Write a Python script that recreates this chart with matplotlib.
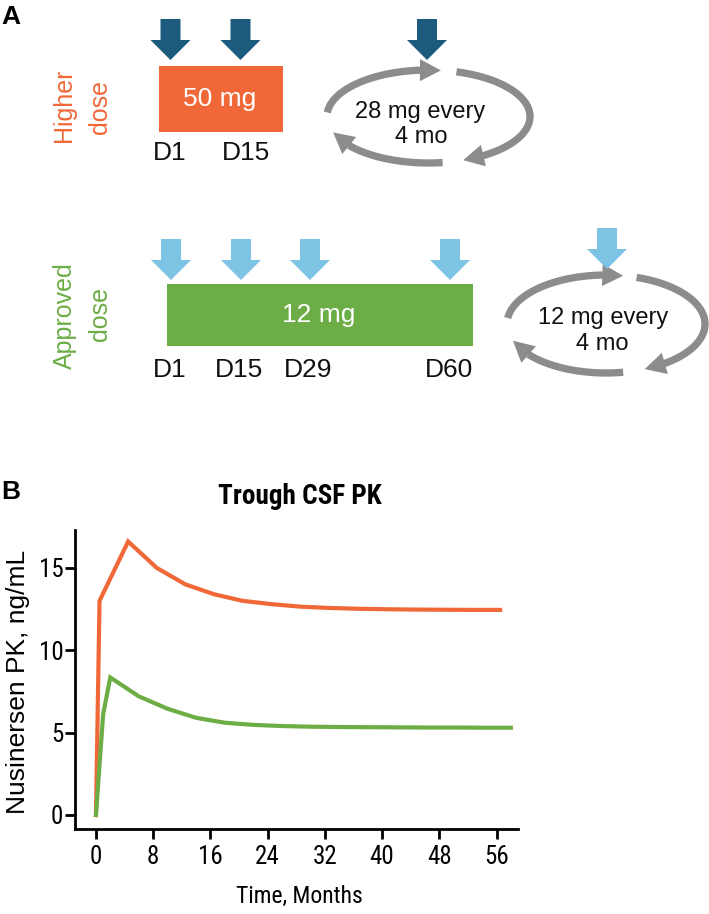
import os
import numpy as np
import matplotlib
matplotlib.use("Agg")
import matplotlib.pyplot as plt
from matplotlib.patches import Polygon, Rectangle
from matplotlib import font_manager
from matplotlib.font_manager import FontProperties

# ---------------- data ----------------
months_higher = [0, 0.5, 4.5, 8.5, 12.5, 16.5, 20.5, 24.5, 28.5, 32.5, 36.5, 40.5, 44.5, 48.5, 52.5, 56.5]
pk_higher = [0, 13.0, 16.6, 15.0, 14.0, 13.4, 13.0, 12.8, 12.65, 12.57, 12.52, 12.49, 12.47, 12.46, 12.45, 12.45]
months_approved = [0, 1.0, 2.0, 6, 10, 14, 18, 22, 26, 30, 34, 38, 42, 46, 50, 54, 58]
pk_approved = [0, 6.1, 8.35, 7.2, 6.45, 5.9, 5.6, 5.47, 5.4, 5.36, 5.34, 5.33, 5.32, 5.31, 5.31, 5.3, 5.3]
x_ticks = [0, 8, 16, 24, 32, 40, 48, 56]
y_ticks = [0, 5, 10, 15]

higher_days = ["D1", "D15"]
approved_days = ["D1", "D15", "D29", "D60"]
higher_label = ["Higher", "dose"]
approved_label = ["Approved", "dose"]
higher_box = "50 mg"
approved_box = "12 mg"
higher_cycle = ["28 mg every", "4 mo"]
approved_cycle = ["12 mg every", "4 mo"]

# ---------------- style ----------------
ORANGE = "#F16838"
GREEN = "#6CAD46"
DARKBLUE = "#1C5B7E"
LIGHTBLUE = "#7DC3E3"
GRAY = "#8C8C8C"
TXT = "#111111"

names = {f.name for f in font_manager.fontManager.ttflist}
SANS = "Liberation Sans" if "Liberation Sans" in names else "DejaVu Sans"
plt.rcParams["font.family"] = [SANS, "DejaVu Sans"]


def _wnum(w):
    if isinstance(w, (int, float)):
        return w
    return {"normal": 400, "regular": 400, "book": 400, "medium": 500,
            "bold": 700, "semibold": 600, "demibold": 600}.get(str(w).lower(), 400)


def find_condensed(bold):
    pref_names = ["Liberation Sans Narrow", "Arial Narrow", "Roboto Condensed",
                  "Open Sans Condensed", "Noto Sans Condensed", "DejaVu Sans Condensed"]
    base_names = ["Liberation Sans", "Roboto", "Open Sans", "Noto Sans", "DejaVu Sans", "Inter", "Lato"]
    target = 700 if bold else 400
    best = None
    for f in font_manager.fontManager.ttflist:
        if f.style != "normal":
            continue
        fn = os.path.basename(f.fname).lower()
        cond = (f.name in pref_names or "narrow" in fn or
                ("condensed" in fn and "semi" not in fn and "extra" not in fn and "ultra" not in fn) or
                (f.stretch in ("condensed",) and f.name in base_names))
        if not cond:
            continue
        if abs(_wnum(f.weight) - target) > 50:
            continue
        rank = 50
        for i, n in enumerate(pref_names):
            if f.name == n:
                rank = i
                break
        if best is None or rank < best[0]:
            best = (rank, f.fname)
    return best[1] if best else None


cond_reg = find_condensed(False)
cond_bold = find_condensed(True)
HAVE_COND = cond_reg is not None


def fp_reg(size):
    if HAVE_COND:
        return FontProperties(fname=cond_reg, size=size)
    return FontProperties(family=SANS, size=size * 0.9)


def fp_bold(size):
    if cond_bold is not None:
        return FontProperties(fname=cond_bold, size=size)
    return FontProperties(family=SANS, weight="bold", size=size * 0.9)


W, H = 709, 914
fig = plt.figure(figsize=(W / 100, H / 100), dpi=100)

# overlay axes in pixel coordinates for the schematic panel
ov = fig.add_axes([0, 0, 1, 1])
ov.set_xlim(0, W)
ov.set_ylim(H, 0)
ov.axis("off")

PT = 72 / 100  # px -> pt


def down_arrow(cx, top, color, w_shaft=20, w_head=40, h=41, h_head=20):
    yb = top + h - h_head
    pts = [(cx - w_shaft / 2, top), (cx + w_shaft / 2, top), (cx + w_shaft / 2, yb),
           (cx + w_head / 2, yb), (cx, top + h), (cx - w_head / 2, yb), (cx - w_shaft / 2, yb)]
    ov.add_patch(Polygon(pts, closed=True, fc=color, ec="none"))


def arc_arrow(cx, cy, rx, ry, t0, t1, lw=7.3, head_len=21, head_w=22, color=GRAY):
    t = np.radians(np.linspace(t0, t1, 600))
    x = cx + rx * np.cos(t)
    y = cy - ry * np.sin(t)
    s = np.concatenate([[0], np.cumsum(np.hypot(np.diff(x), np.diff(y)))])
    bi = int(np.searchsorted(s, s[-1] - head_len))
    ov.plot(x[:bi + 3], y[:bi + 3], lw=lw * PT, color=color, solid_capstyle="butt")
    tip = np.array([x[-1], y[-1]])
    base = np.array([x[bi], y[bi]])
    d = (tip - base) / np.linalg.norm(tip - base)
    p = np.array([-d[1], d[0]])
    ov.add_patch(Polygon([tip, base + p * head_w / 2, base - p * head_w / 2], closed=True,
                         fc=color, ec="none"))


def cycle(cx, cy, rx, ry, angles):
    for a0, a1 in angles:
        arc_arrow(cx, cy, rx, ry, a0, a1)


# panel labels
fig.text(1 / W, 1 - 17.5 / H, "A", fontsize=19, fontweight="bold", ha="left", va="center")
fig.text(1 / W, 1 - 492 / H, "B", fontsize=19, fontweight="bold", ha="left", va="center")

# ---- higher dose row ----
ov.text(64.5, 105, higher_label[0], rotation=90, color=ORANGE, fontsize=18, ha="center", va="center")
ov.text(100.5, 106.5, higher_label[1], rotation=90, color=ORANGE, fontsize=18, ha="center", va="center")
ov.add_patch(Rectangle((159, 66), 124, 66, fc=ORANGE, ec="none"))
ov.text(220, 106, higher_box, color="white", fontsize=19, ha="center", va="baseline")
for cx in [170.5, 240.5]:
    down_arrow(cx, 19, DARKBLUE)
for lx, lab in zip([153, 222], higher_days):
    ov.text(lx, 160, lab, color=TXT, fontsize=19, ha="left", va="baseline")
cycle(428.5, 116.5, 101.5, 46.5, [(175, 83), (74, -70), (-82, -160)])
down_arrow(427, 19, DARKBLUE)
ov.text(420.5, 118.3, higher_cycle[0], color=TXT, fontsize=17, ha="center", va="baseline")
ov.text(421, 143.3, higher_cycle[1], color=TXT, fontsize=17, ha="center", va="baseline")

# ---- approved dose row ----
ov.text(64.5, 316, approved_label[0], rotation=90, color=GREEN, fontsize=18, ha="center", va="center")
ov.text(100.5, 314, approved_label[1], rotation=90, color=GREEN, fontsize=18, ha="center", va="center")
ov.add_patch(Rectangle((167, 284), 306, 62, fc=GREEN, ec="none"))
ov.text(318.5, 322, approved_box, color="white", fontsize=19, ha="center", va="baseline")
for cx in [171, 241, 310, 450]:
    down_arrow(cx, 239, LIGHTBLUE)
for lx, lab in zip([153, 215, 284, 425], approved_days):
    ov.text(lx, 376.7, lab, color=TXT, fontsize=19, ha="left", va="baseline")
cycle(606, 324, 99, 49, [(173, 80), (72, -67), (-80, -160)])
down_arrow(607, 228, LIGHTBLUE)
ov.text(602.8, 324, approved_cycle[0], color=TXT, fontsize=17, ha="center", va="baseline")
ov.text(602, 350, approved_cycle[1], color=TXT, fontsize=17, ha="center", va="baseline")

# ---------------- chart B ----------------
l, r, b, t = 75, 518, 829, 530
ax = fig.add_axes([l / W, 1 - b / H, (r - l) / W, (b - t) / H])
ax.plot(months_higher, pk_higher, color=ORANGE, lw=3.0, solid_joinstyle="miter")
ax.plot(months_approved, pk_approved, color=GREEN, lw=3.0, solid_joinstyle="miter")
ax.set_xlim(-2.93, 59.0)
ax.set_ylim(-0.85, 17.3)
ax.set_xticks(x_ticks)
ax.set_yticks(y_ticks)
for side in ["top", "right"]:
    ax.spines[side].set_visible(False)
for side in ["left", "bottom"]:
    ax.spines[side].set_linewidth(2)
ax.tick_params(axis="both", length=7.2, width=2, direction="out", color="black")
ax.tick_params(axis="x", pad=4.3)
ax.tick_params(axis="y", pad=1.2)
for lab in ax.get_xticklabels() + ax.get_yticklabels():
    lab.set_fontproperties(fp_reg(18))

fig.text(300 / W, 1 - 496 / H, "Trough CSF PK", fontproperties=fp_bold(19.5),
         ha="center", va="center")
fig.text(299 / W, 1 - 896 / H, "Time, Months", fontproperties=fp_reg(17),
         ha="center", va="center")
fig.text(18 / W, 1 - 682 / H, "Nusinersen PK, ng/mL", fontsize=19, rotation=90,
         ha="center", va="center")

fig.savefig("out.png", dpi=100)
